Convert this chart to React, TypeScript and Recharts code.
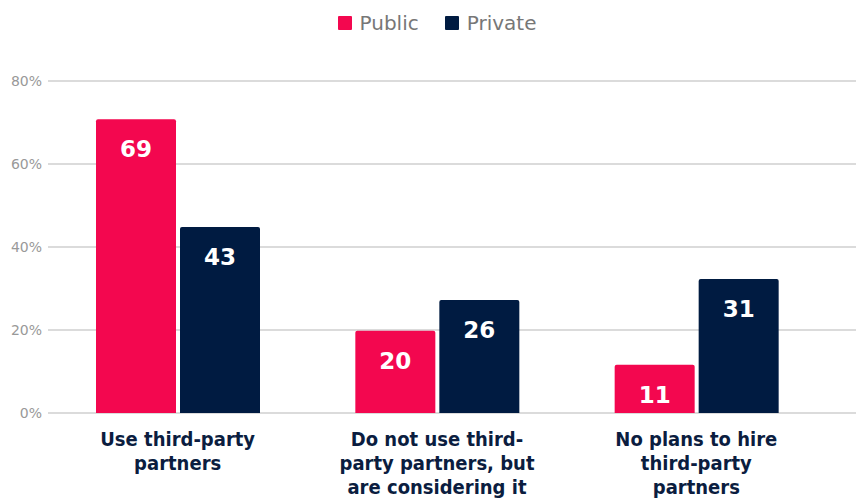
import React from 'react';
import { BarChart, Bar, XAxis, YAxis, CartesianGrid, Legend, LabelList } from 'recharts';

const categories = [
  'Use third-party\npartners',
  'Do not use third-\nparty partners, but\nare considering it',
  'No plans to hire\nthird-party\npartners',
];
// bar heights as drawn (percent)
const publicValues = [70.8, 19.8, 11.6];
const privateValues = [44.8, 27.2, 32.3];
// labels printed on the bars
const publicLabels = ['69', '20', '11'];
const privateLabels = ['43', '26', '31'];
const yTicks = [0, 20, 40, 60, 80];

const PINK = '#F3074F';
const NAVY = '#001B41';

const data = categories.map((name, i) => ({
  name,
  Public: publicValues[i],
  Private: privateValues[i],
  publicLabel: publicLabels[i],
  privateLabel: privateLabels[i],
}));

const CategoryTick = (props: any) => {
  const { x, y, payload } = props;
  const lines = String(payload.value).split('\n');
  return (
    <g transform={`translate(${x},${y})`}>
      {lines.map((line, i) => (
        <text
          key={i}
          x={0}
          y={33 + i * 24}
          textAnchor="middle"
          fill="#0B1D3F"
          fontSize={20}
          fontWeight={700}
          fontFamily="'Liberation Sans Narrow', 'DejaVu Sans Condensed', sans-serif"
        >
          {line}
        </text>
      ))}
    </g>
  );
};

const BarValue = (props: any) => {
  const { x, y, width, value } = props;
  return (
    <text
      x={x + width / 2}
      y={y + 38}
      textAnchor="middle"
      fill="#ffffff"
      fontSize={23}
      fontWeight={700}
      fontFamily="'DejaVu Sans', sans-serif"
    >
      {value}
    </text>
  );
};

const LegendContent = () => (
  <div
    style={{
      display: 'flex',
      justifyContent: 'center',
      gap: 26,
      paddingLeft: 18,
      fontFamily: "'DejaVu Sans', sans-serif",
      fontSize: 20,
      color: '#777777',
      height: 30,
      alignItems: 'center',
    }}
  >
    {[
      { label: 'Public', color: PINK },
      { label: 'Private', color: NAVY },
    ].map((item) => (
      <div key={item.label} style={{ display: 'flex', alignItems: 'center', gap: 8 }}>
        <span style={{ width: 14, height: 14, background: item.color, display: 'inline-block', borderRadius: 1 }} />
        <span>{item.label}</span>
      </div>
    ))}
  </div>
);

export default function App() {
  return (
    <div style={{ position: 'absolute', left: 0, top: 0, width: 859, height: 499, background: '#fff' }}>
      <BarChart
        width={859}
        height={499}
        data={data}
        margin={{ top: 51, right: 3, bottom: 0, left: 0 }}
        barGap={4}
        barSize={80}
      >
        <CartesianGrid vertical={false} stroke="#b8b8b8" strokeWidth={1.2} />
        <XAxis
          dataKey="name"
          axisLine={false}
          tickLine={false}
          height={86}
          interval={0}
          padding={{ left: 0, right: 30 }}
          tick={<CategoryTick />}
          tickMargin={0}
          tickSize={0}
        />
        <YAxis
          domain={[0, 80]}
          ticks={yTicks}
          width={48}
          axisLine={false}
          tickLine={false}
          tickSize={0}
          tickMargin={6}
          tickFormatter={(v: number) => `${v}%`}
          tick={{ fill: '#999999', fontSize: 14, fontFamily: "'DejaVu Sans', sans-serif" }}
        />
        <Legend verticalAlign="top" height={30} wrapperStyle={{ top: 8 }} content={<LegendContent />} />
        <Bar dataKey="Public" fill={PINK} radius={[2, 2, 0, 0]} isAnimationActive={false}>
          <LabelList dataKey="publicLabel" content={<BarValue />} />
        </Bar>
        <Bar dataKey="Private" fill={NAVY} radius={[2, 2, 0, 0]} isAnimationActive={false}>
          <LabelList dataKey="privateLabel" content={<BarValue />} />
        </Bar>
      </BarChart>
    </div>
  );
}
